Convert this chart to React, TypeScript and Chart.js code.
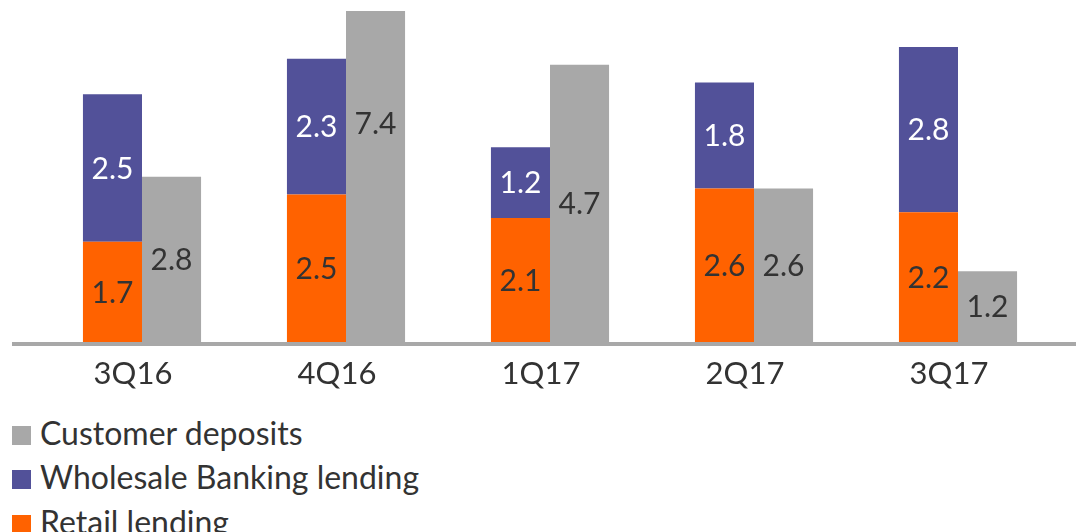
import React, { useEffect, useRef } from "react";
import { Chart, registerables } from "chart.js";

Chart.register(...registerables);

const categories = ["3Q16", "4Q16", "1Q17", "2Q17", "3Q17"];
const retailLending = [1.7, 2.5, 2.1, 2.6, 2.2];
const wholesaleLending = [2.5, 2.3, 1.2, 1.8, 2.8];
const customerDeposits = [2.8, 7.4, 4.7, 2.6, 1.2];

const ORANGE = "#FF6200";
const PURPLE = "#525199";
const GREY = "#A8A8A8";
const TEXT = "#333333";
const FONT = "Lato, 'Open Sans', sans-serif";

const legendItems = [
  { label: "Customer deposits", color: GREY },
  { label: "Wholesale Banking lending", color: PURPLE },
  { label: "Retail lending", color: ORANGE },
];

const labelColors = [TEXT, "#FFFFFF", TEXT];

const valueLabels = {
  id: "valueLabels",
  afterDatasetsDraw(chart: any) {
    const ctx = chart.ctx;
    chart.data.datasets.forEach((ds: any, i: number) => {
      const meta = chart.getDatasetMeta(i);
      meta.data.forEach((bar: any, j: number) => {
        const { x, y, base } = bar.getProps(["x", "y", "base"], true);
        ctx.save();
        ctx.font = `30px ${FONT}`;
        ctx.fillStyle = labelColors[i];
        ctx.textAlign = "center";
        ctx.textBaseline = "middle";
        ctx.fillText(Number(ds.data[j]).toFixed(1), x, (y + base) / 2 + 1);
        ctx.restore();
      });
    });
  },
};

const axisLine = {
  id: "axisLine",
  afterDraw(chart: any) {
    const ctx = chart.ctx;
    const yPix = chart.chartArea.bottom;
    ctx.save();
    ctx.fillStyle = GREY;
    ctx.fillRect(12, yPix, 1064, 4);
    ctx.restore();
  },
};

export default function App() {
  const ref = useRef<HTMLCanvasElement>(null);

  useEffect(() => {
    if (!ref.current) return;
    const chart = new Chart(ref.current, {
      type: "bar",
      data: {
        labels: categories,
        datasets: [
          {
            label: "Retail lending",
            data: retailLending,
            backgroundColor: ORANGE,
            stack: "lending",
          },
          {
            label: "Wholesale Banking lending",
            data: wholesaleLending,
            backgroundColor: PURPLE,
            stack: "lending",
          },
          {
            label: "Customer deposits",
            data: customerDeposits,
            backgroundColor: GREY,
            stack: "deposits",
          },
        ],
      },
      options: {
        responsive: false,
        animation: false,
        layout: { padding: { left: 40, right: 16, top: 11, bottom: 0 } },
        datasets: {
          bar: { categoryPercentage: 0.579, barPercentage: 1.0 },
        },
        plugins: {
          legend: { display: false },
          tooltip: { enabled: false },
        },
        scales: {
          x: {
            stacked: true,
            grid: { display: false, drawTicks: false },
            border: { display: false },
            ticks: {
              color: TEXT,
              font: { family: FONT, size: 31 },
              padding: 13,
              maxRotation: 0,
              labelOffset: -9,
            },
            afterFit: (scale: any) => {
              scale.height = 58;
            },
          },
          y: {
            stacked: true,
            display: false,
            min: 0,
            max: 5.61,
          },
        },
      },
      plugins: [valueLabels, axisLine],
    });
    return () => chart.destroy();
  }, []);

  return (
    <div
      style={{
        position: "absolute",
        left: 0,
        top: 0,
        width: 1076,
        height: 532,
        background: "#fff",
        overflow: "hidden",
      }}
    >
      <canvas ref={ref} width={1076} height={400} style={{ display: "block" }} />
      <div style={{ position: "absolute", left: 0, top: 413 }}>
        {legendItems.map((it) => (
          <div
            key={it.label}
            style={{
              display: "flex",
              alignItems: "center",
              height: 44.5,
              fontFamily: FONT,
              fontSize: 32,
              color: TEXT,
              whiteSpace: "nowrap",
            }}
          >
            <span
              style={{
                display: "inline-block",
                width: 19,
                height: 19,
                marginLeft: 12,
                marginRight: 9,
                background: it.color,
              }}
            />
            <span style={{ position: "relative", top: -3 }}>{it.label}</span>
          </div>
        ))}
      </div>
    </div>
  );
}
